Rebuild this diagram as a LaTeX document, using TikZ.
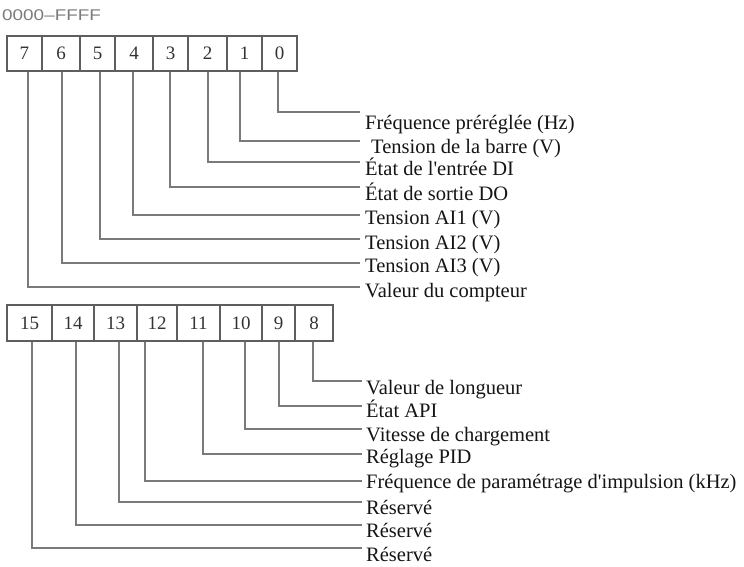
\documentclass[tikz,border=0pt]{standalone}
\usepackage{fontspec}
\setmainfont{Liberation Serif}
\newfontfamily\hdrfont{Liberation Sans}
\definecolor{boxgray}{HTML}{5E5E5E}
\definecolor{wiregray}{HTML}{7A7A7A}
\definecolor{numgray}{HTML}{333333}
\definecolor{labblack}{HTML}{151515}
\definecolor{hdrgray}{HTML}{7C7C7C}
\newcommand{\sq}{\textquotesingle}
\tikzset{
  cell/.style={draw=boxgray, line width=1.2pt, inner sep=0pt, minimum height=35pt,
    text=numgray, font=\fontsize{19}{22}\selectfont},
  wire/.style={draw=wiregray, line width=1.6pt},
  lab/.style={anchor=base west, inner sep=0pt, text=labblack, font=\fontsize{20.5}{24}\selectfont},
  hdr/.style={anchor=base west, inner sep=0pt, text=hdrgray}
}
\begin{document}
\begin{tikzpicture}[x=1pt,y=-1pt]
\useasboundingbox (0,0) rectangle (744,566);
% header
\node[hdr] (hdr) at (2,20.5) {\scalebox{1.22}[1]{\hdrfont\fontsize{15.5}{18}\selectfont 0000–FFFF}};
% top register
\node[cell, minimum width=35pt] (c7) at (24.5,53.5) {7};
\node[cell, minimum width=38pt] (c6) at (61,53.5) {6};
\node[cell, minimum width=35pt] (c5) at (97.5,53.5) {5};
\node[cell, minimum width=38pt] (c4) at (134,53.5) {4};
\node[cell, minimum width=35pt] (c3) at (170.5,53.5) {3};
\node[cell, minimum width=39pt] (c2) at (207.5,53.5) {2};
\node[cell, minimum width=35pt] (c1) at (244.5,53.5) {1};
\node[cell, minimum width=35pt] (c0) at (279.5,53.5) {0};
% top labels
\node[lab] (l0) at (365,129) {Fréquence préréglée (Hz)};
\node[lab] (l1) at (371,153) {Tension de la barre (V)};
\node[lab] (l2) at (365,175) {État de l\sq entrée DI};
\node[lab] (l3) at (365,200) {État de sortie DO};
\node[lab] (l4) at (365,224) {Tension AI1 (V)};
\node[lab] (l5) at (365,249) {Tension AI2 (V)};
\node[lab] (l6) at (365,272) {Tension AI3 (V)};
\node[lab] (l7) at (365,297) {Valeur du compteur};
% top wire ends
\coordinate (e0) at (360,112);
\coordinate (e1) at (360,141);
\coordinate (e2) at (360,162);
\coordinate (e3) at (360,187);
\coordinate (e4) at (360,215);
\coordinate (e5) at (360,239);
\coordinate (e6) at (360,263);
\coordinate (e7) at (360,287);
\draw[wire] ([xshift=-1.5pt]c0.south) |- (e0);
\draw[wire] ([xshift=-4.5pt]c1.south) |- (e1);
\draw[wire] ([xshift=0.5pt]c2.south) |- (e2);
\draw[wire] ([xshift=-0.5pt]c3.south) |- (e3);
\draw[wire] ([xshift=-1pt]c4.south) |- (e4);
\draw[wire] ([xshift=2.5pt]c5.south) |- (e5);
\draw[wire] ([xshift=1pt]c6.south) |- (e6);
\draw[wire] ([xshift=3.5pt]c7.south) |- (e7);
% bottom register
\node[cell, minimum width=45pt, minimum height=36pt] (c15) at (29.5,323) {15};
\node[cell, minimum width=42pt, minimum height=36pt] (c14) at (73,323) {14};
\node[cell, minimum width=43pt, minimum height=36pt] (c13) at (115.5,323) {13};
\node[cell, minimum width=40pt, minimum height=36pt] (c12) at (157,323) {12};
\node[cell, minimum width=43pt, minimum height=36pt] (c11) at (198.5,323) {11};
\node[cell, minimum width=42pt, minimum height=36pt] (c10) at (241,323) {10};
\node[cell, minimum width=33pt, minimum height=36pt] (c9) at (278.5,323) {9};
\node[cell, minimum width=38pt, minimum height=36pt] (c8) at (314,323) {8};
% bottom labels
\node[lab] (l8) at (366,394) {Valeur de longueur};
\node[lab] (l9) at (366,417) {État API};
\node[lab] (l10) at (366,441) {Vitesse de chargement};
\node[lab] (l11) at (366,463) {Réglage PID};
\node[lab] (l12) at (366,488) {Fréquence de paramétrage d\sq impulsion (kHz)};
\node[lab] (l13) at (366,514) {Réservé};
\node[lab] (l14) at (366,537) {Réservé};
\node[lab] (l15) at (366,561) {Réservé};
% bottom wire ends
\coordinate (e8) at (362,381);
\coordinate (e9) at (362,406);
\coordinate (e10) at (362,429);
\coordinate (e11) at (362,454);
\coordinate (e12) at (362,481);
\coordinate (e13) at (362,502);
\coordinate (e14) at (362,525);
\coordinate (e15) at (362,548);
\draw[wire] ([xshift=-1pt]c8.south) |- (e8);
\draw[wire] ([xshift=0.5pt]c9.south) |- (e9);
\draw[wire] ([xshift=4pt]c10.south) |- (e10);
\draw[wire] ([xshift=4.5pt]c11.south) |- (e11);
\draw[wire] ([xshift=-12pt]c12.south) |- (e12);
\draw[wire] ([xshift=3.5pt]c13.south) |- (e13);
\draw[wire] ([xshift=3pt]c14.south) |- (e14);
\draw[wire] ([xshift=2.5pt]c15.south) |- (e15);
\end{tikzpicture}
\end{document}
